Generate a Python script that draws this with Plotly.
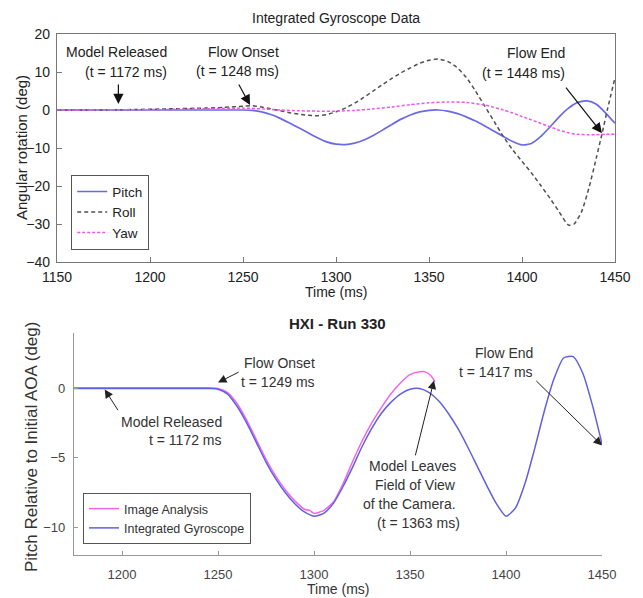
import plotly.graph_objects as go

# ---------------- Top chart data (Integrated Gyroscope Data) ----------------
t_pitch = [1150, 1200, 1245, 1250, 1255, 1260, 1265, 1270, 1275, 1280, 1285, 1290, 1295,
           1300, 1305, 1310, 1315, 1320, 1325, 1330, 1335, 1340, 1345, 1350, 1355, 1360,
           1365, 1370, 1375, 1380, 1385, 1390, 1395, 1400, 1405, 1410, 1415, 1420, 1425,
           1430, 1435, 1440, 1445, 1450]
pitch = [0.0, 0.0, 0.0, 0.0, -0.1, -0.5, -1.2, -2.2, -3.4, -4.7, -6.0, -7.3, -8.4,
         -9.0, -9.1, -8.7, -7.9, -6.7, -5.3, -3.8, -2.4, -1.3, -0.5, -0.1, 0.0, -0.3,
         -0.9, -1.8, -2.9, -4.2, -5.6, -7.0, -8.3, -9.2, -8.8, -7.0, -4.5, -1.8, 0.5,
         2.0, 2.4, 1.5, -0.8, -3.5]

t_roll = [1150, 1170, 1190, 1210, 1230, 1240, 1250, 1255, 1260, 1265, 1270, 1275, 1280,
          1285, 1290, 1295, 1300, 1305, 1310, 1315, 1320, 1325, 1330, 1335, 1340, 1345,
          1350, 1355, 1360, 1365, 1370, 1375, 1380, 1385, 1390, 1395, 1400, 1405, 1410,
          1415, 1420, 1425, 1428, 1432, 1436, 1440, 1443, 1446, 1450]
roll = [0.0, 0.0, 0.1, 0.3, 0.5, 0.7, 1.0, 1.1, 0.8, 0.3, -0.2, -0.7, -1.1,
        -1.4, -1.5, -1.2, -0.5, 0.5, 1.8, 3.3, 5.0, 6.7, 8.3, 9.8, 11.1, 12.3,
        13.1, 13.4, 12.8, 11.2, 8.6, 5.0, 1.0, -3.0, -7.0, -10.5, -13.5, -16.5, -19.8,
        -23.2, -26.8, -30.3, -30.0, -26.8, -20.5, -12.5, -6.3, 0.3, 8.5]

t_yaw = [1150, 1200, 1230, 1250, 1260, 1270, 1280, 1290, 1300, 1310, 1320, 1330, 1340,
         1350, 1360, 1370, 1380, 1390, 1395, 1400, 1405, 1410, 1415, 1420, 1425, 1430,
         1435, 1440, 1445, 1450]
yaw = [0.0, 0.1, 0.3, 0.5, 0.3, 0.0, -0.2, -0.3, -0.3, -0.1, 0.3, 0.8, 1.4,
       1.9, 2.1, 2.0, 1.3, 0.0, -0.8, -1.7, -2.6, -3.5, -4.4, -5.3, -6.0, -6.4,
       -6.5, -6.5, -6.4, -6.4]

# ---------------- Bottom chart data (HXI - Run 330) ----------------
t_gyro = [1175, 1200, 1230, 1245, 1250, 1255, 1260, 1265, 1270, 1275, 1280, 1285, 1290,
          1295, 1300, 1305, 1310, 1315, 1320, 1325, 1330, 1335, 1340, 1345, 1350, 1355,
          1360, 1365, 1370, 1375, 1380, 1385, 1390, 1395, 1400, 1405, 1410, 1415, 1420,
          1425, 1430, 1435, 1440, 1445, 1450]
gyro = [0.0, 0.0, 0.0, 0.0, -0.05, -0.4, -1.3, -2.5, -3.9, -5.3, -6.5, -7.5, -8.3,
        -8.9, -9.2, -9.0, -8.3, -7.1, -5.7, -4.2, -2.9, -1.8, -1.0, -0.4, -0.05, 0.0,
        -0.3, -0.9, -1.8, -2.9, -4.2, -5.6, -7.0, -8.3, -9.2, -8.6, -6.8, -4.3, -1.6,
        0.7, 2.2, 2.3, 1.1, -1.2, -4.0]

t_image = [1175, 1200, 1230, 1245, 1250, 1255, 1260, 1265, 1270, 1275, 1280, 1285, 1290,
           1295, 1298, 1300, 1303, 1305, 1310, 1315, 1320, 1325, 1330, 1335, 1340, 1345,
           1350, 1355, 1358, 1361, 1363]
image = [0.05, 0.05, 0.05, 0.05, 0.0, -0.3, -1.1, -2.3, -3.7, -5.1, -6.3, -7.3, -8.1,
         -8.7, -8.8, -9.0, -8.9, -8.8, -8.2, -6.9, -5.3, -3.8, -2.5, -1.4, -0.4, 0.4,
         1.0, 1.2, 1.2, 0.9, 0.5]

top_xticks = [1150, 1200, 1250, 1300, 1350, 1400, 1450]
top_yticks = [-40, -30, -20, -10, 0, 10, 20]
bot_xticks = [1200, 1250, 1300, 1350, 1400, 1450]
bot_yticks = [-10, -5, 0]

W, H = 643, 598
FONT = "Liberation Sans, Arial, sans-serif"


def px(x):
    return x / W


def py(y):
    return 1 - y / H


fig = go.Figure()

fig.add_trace(go.Scatter(x=t_pitch, y=pitch, name="Pitch", mode="lines",
                         line=dict(color="#6a6ae8", width=1.7, shape="spline", smoothing=0.6),
                         xaxis="x", yaxis="y", legend="legend"))
fig.add_trace(go.Scatter(x=t_roll, y=roll, name="Roll", mode="lines",
                         line=dict(color="#505050", width=1.5, dash="4px,3px", shape="spline", smoothing=0.6),
                         xaxis="x", yaxis="y", legend="legend"))
fig.add_trace(go.Scatter(x=t_yaw, y=yaw, name="Yaw", mode="lines",
                         line=dict(color="#ee55ee", width=1.5, dash="3px,2px", shape="spline", smoothing=0.6),
                         xaxis="x", yaxis="y", legend="legend"))

fig.add_trace(go.Scatter(x=t_image, y=image, name="Image Analysis", mode="lines",
                         line=dict(color="#ee66ee", width=1.5, shape="spline", smoothing=0.6),
                         xaxis="x2", yaxis="y2", legend="legend2"))
fig.add_trace(go.Scatter(x=t_gyro, y=gyro, name="Integrated Gyroscope", mode="lines",
                         line=dict(color="#6060e0", width=1.5, shape="spline", smoothing=0.6),
                         xaxis="x2", yaxis="y2", legend="legend2"))

top_axis_common = dict(showline=True, mirror=True, linecolor="#777777", linewidth=1.2,
                       ticks="inside", ticklen=5, tickcolor="#777777", showgrid=False,
                       zeroline=False, automargin=False,
                       tickfont=dict(family=FONT, size=14, color="#222222"))
bot_axis_common = dict(showline=True, mirror=False, linecolor="#999999", linewidth=1.2,
                       ticks="inside", ticklen=4, tickcolor="#999999", showgrid=False,
                       zeroline=False, automargin=False,
                       tickfont=dict(family=FONT, size=13, color="#444444"))

fig.update_layout(
    template="none",
    width=W, height=H, autosize=False,
    margin=dict(l=0, r=0, t=0, b=0, pad=0),
    paper_bgcolor="white", plot_bgcolor="white",
    font=dict(family=FONT, color="#222222"),
    xaxis=dict(domain=[px(57), px(615)], range=[1150, 1450], tickvals=top_xticks,
               anchor="y", ticklabelstandoff=2, **top_axis_common),
    yaxis=dict(domain=[py(262), py(34)], range=[-40, 20], tickvals=top_yticks,
               anchor="x", ticklabelstandoff=3, **top_axis_common),
    xaxis2=dict(domain=[px(74), px(602)], range=[1175, 1450], tickvals=bot_xticks,
                anchor="y2", ticklabelstandoff=7, **bot_axis_common),
    yaxis2=dict(domain=[py(555), py(333)], range=[-12, 4], tickvals=bot_yticks,
                anchor="x2", ticklabelstandoff=5, **bot_axis_common),
    legend=dict(x=px(71), y=py(175), xanchor="left", yanchor="top",
                bordercolor="#555555", borderwidth=1.2, bgcolor="white",
                font=dict(family=FONT, size=13.5, color="#222222"),
                itemwidth=30, tracegroupgap=0),
    legend2=dict(x=px(83), y=py(493), xanchor="left", yanchor="top",
                 bordercolor="#555555", borderwidth=1, bgcolor="white",
                 font=dict(family=FONT, size=12.5, color="#333333"),
                 itemwidth=30, tracegroupgap=0),
    showlegend=True,
)


def label(text, x, y, xanchor="center", size=14, color="#222222", angle=0):
    return dict(text=text, x=px(x), y=py(y), xref="paper", yref="paper",
                xanchor=xanchor, yanchor="middle", textangle=angle,
                showarrow=False, font=dict(size=size, family=FONT, color=color))


ann = []
# Titles and axis titles
ann.append(label("Integrated Gyroscope Data", 336, 18, size=14))
ann.append(label("<b>HXI - Run 330</b>", 337, 323, size=15))
ann.append(label("Time (ms)", 336, 292, size=14))
ann.append(label("Time (ms)", 338, 589, size=14, color="#333333"))
ann.append(label("Angular rotation (deg)", 21, 148, size=15, angle=-90))
ann.append(label("Pitch Relative to Initial AOA (deg)", 32, 447, size=17, color="#333333", angle=-90))

# Top chart texts (each line positioned separately, right aligned)
C1 = "#222222"
ann.append(label("Model Released", 169, 52, xanchor="right", color=C1))
ann.append(label("(t = 1172 ms)", 169, 72, xanchor="right", color=C1))
ann.append(label("Flow Onset", 281, 52, xanchor="right", color=C1))
ann.append(label("(t = 1248 ms)", 281, 71, xanchor="right", color=C1))
ann.append(label("Flow End", 567, 53, xanchor="right", color=C1))
ann.append(label("(t = 1448 ms)", 567, 73, xanchor="right", color=C1))

# Bottom chart texts
C2 = "#333333"
ann.append(label("Flow Onset", 317, 363, xanchor="right", color=C2))
ann.append(label("t = 1249 ms", 317, 382, xanchor="right", color=C2))
ann.append(label("Model Released", 224, 422, xanchor="right", color=C2))
ann.append(label("t = 1172 ms", 224, 440, xanchor="right", color=C2))
ann.append(label("Model Leaves", 458, 466, xanchor="right", color=C2))
ann.append(label("Field of View", 458, 485, xanchor="right", color=C2))
ann.append(label("of the Camera.", 458, 504, xanchor="right", color=C2))
ann.append(label("(t = 1363 ms)", 462, 523, xanchor="right", color=C2))
ann.append(label("Flow End", 535, 353, xanchor="right", color=C2))
ann.append(label("t = 1417 ms", 535, 372, xanchor="right", color=C2))

# Arrows (tip = x,y ; tail = ax,ay) in data coordinates
top_arrows = [
    (1183, 1.6, 1183, 7.1),
    (1253.8, 1.3, 1247.3, 7.1),
    (1443, -6.1, 1423, 6.3),
]
for (x, y, ax, ay) in top_arrows:
    ann.append(dict(x=x, y=y, ax=ax, ay=ay, xref="x", yref="y", axref="x", ayref="y",
                    text="", showarrow=True, arrowhead=2, arrowsize=1.7, arrowwidth=1.2,
                    arrowcolor="#111111"))

bot_arrows = [
    (1250, 0.43, 1261.5, 1.23),
    (1191, -0.07, 1198.4, -1.67),
    (1362.5, 0.58, 1352.6, -4.93),
    (1450, -4.1, 1415, 0.65),
]
for (x, y, ax, ay) in bot_arrows:
    ann.append(dict(x=x, y=y, ax=ax, ay=ay, xref="x2", yref="y2", axref="x2", ayref="y2",
                    text="", showarrow=True, arrowhead=2, arrowsize=1.7, arrowwidth=1.0,
                    arrowcolor="#222222"))

fig.update_layout(annotations=ann)

fig.write_html("out.html")
